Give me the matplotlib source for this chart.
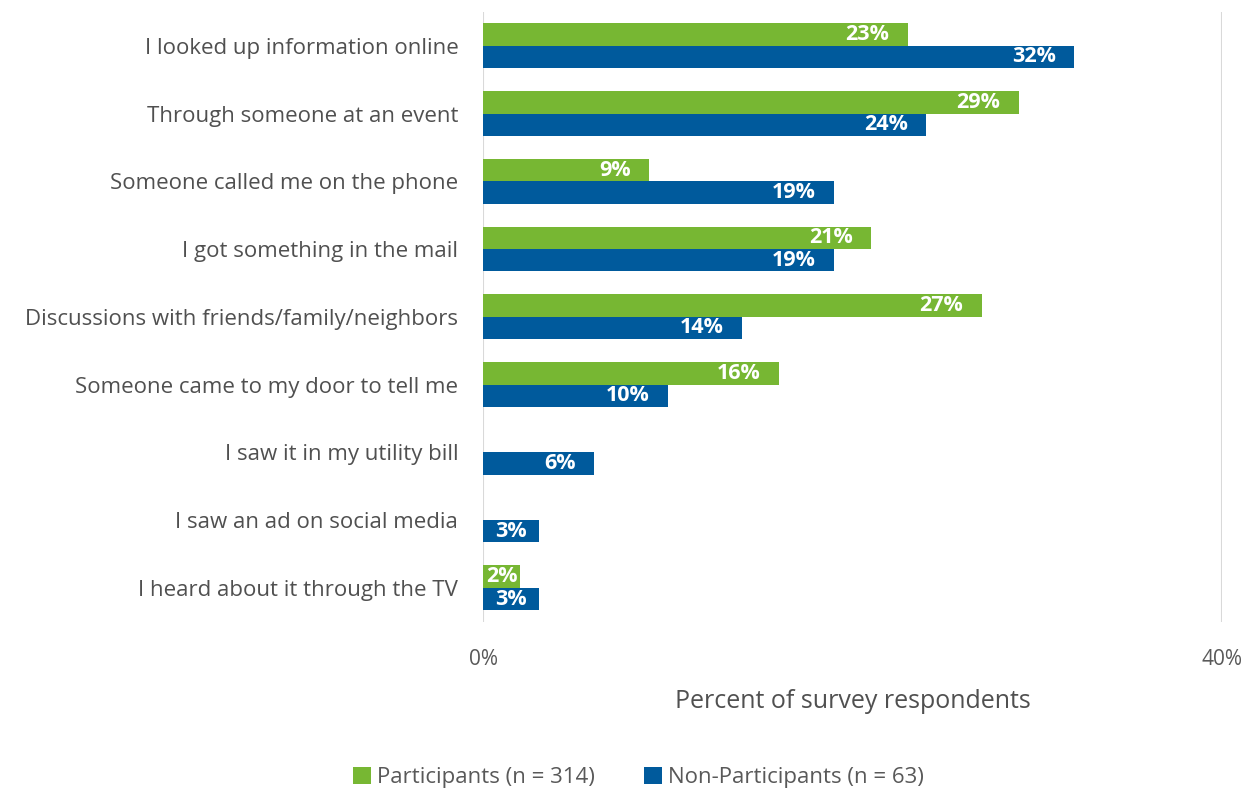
import matplotlib.pyplot as plt
import numpy as np

plt.rcParams['font.family'] = ['Open Sans', 'DejaVu Sans']

categories = [
    'I looked up information online',
    'Through someone at an event',
    'Someone called me on the phone',
    'I got something in the mail',
    'Discussions with friends/family/neighbors',
    'Someone came to my door to tell me',
    'I saw it in my utility bill',
    'I saw an ad on social media',
    'I heard about it through the TV',
]
participants = [23, 29, 9, 21, 27, 16, None, None, 2]
non_participants = [32, 24, 19, 19, 14, 10, 6, 3, 3]
series_names = ['Participants (n = 314)', 'Non-Participants (n = 63)']

green = '#77b733'
blue = '#005a9c'

fig = plt.figure(figsize=(12.52, 7.92), dpi=100)
ax = fig.add_axes([0.386, 0.215, 0.590, 0.770])

y = np.arange(len(categories))
h = 0.33


def add_bars(vals, offset, color, label):
    ys = y + offset
    xs = [v if v is not None else 0 for v in vals]
    ax.barh(ys, xs, height=h, color=color, label=label, zorder=3)
    for yi, v in zip(ys, vals):
        if not v:
            continue
        if v <= 3:
            ax.text(v / 2, yi, f'{v}%', ha='center', va='center', color='white',
                    fontsize=15.5, fontweight='bold', zorder=4)
        else:
            ax.text(v - 1.0, yi, f'{v}%', ha='right', va='center', color='white',
                    fontsize=15.5, fontweight='bold', zorder=4)


add_bars(participants, -h / 2, green, series_names[0])
add_bars(non_participants, h / 2, blue, series_names[1])

ax.set_ylim(len(categories) - 0.5, -0.5)
ax.set_xlim(0, 40)
ax.set_yticks(y)
ax.set_yticklabels(categories, fontsize=16, color='#505050')
ax.set_xticks([0, 40])
ax.set_xticklabels(['0%', '40%'], fontsize=15, color='#595959')
ax.tick_params(length=0)
ax.tick_params(axis='y', pad=18)
ax.tick_params(axis='x', pad=20)
for s in ax.spines.values():
    s.set_visible(False)
ax.grid(axis='x', color='#d9d9d9', linewidth=1.5, zorder=0)
ax.set_xlabel('Percent of survey respondents', fontsize=18, color='#505050', labelpad=13)

fig.legend(loc='lower center', bbox_to_anchor=(0.51, -0.02), ncol=2, frameon=False,
           fontsize=16, handlelength=0.8, handleheight=0.8, handletextpad=0.3,
           columnspacing=2.2, labelcolor='#595959')

fig.savefig('out.png', dpi=100)
